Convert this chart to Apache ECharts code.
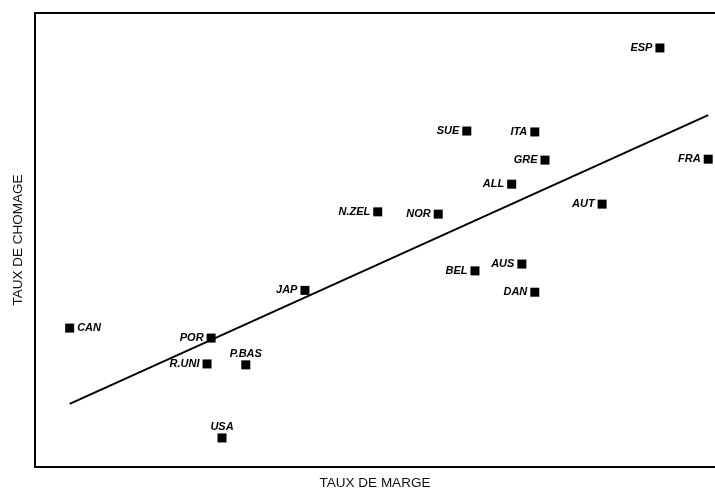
<!DOCTYPE html>
<html>
<head>
<meta charset="utf-8">
<script src="https://cdn.jsdelivr.net/npm/echarts@6/dist/echarts.min.js"></script>
<style>
  html, body { margin: 0; padding: 0; background: #fff; }
  #chart { width: 715px; height: 490px; }
</style>
</head>
<body>
<div id="chart"></div>
<script>
// Pays de l'OCDE : taux de marge (x) et taux de chômage (y), indices relatifs
const pays = ['ESP', 'SUE', 'ITA', 'GRE', 'FRA', 'ALL', 'AUT', 'N.ZEL', 'NOR',
              'AUS', 'BEL', 'DAN', 'JAP', 'CAN', 'POR', 'R.UNI', 'P.BAS', 'USA'];
const tauxMarge = [91.9, 63.5, 73.5, 75.0, 99.0, 70.1, 83.4, 50.4, 59.3,
                   71.6, 64.7, 73.5, 39.7, 5.1, 25.9, 25.3, 31.0, 27.5];
const tauxChomage = [92.3, 74.0, 73.8, 67.6, 67.8, 62.3, 57.9, 56.2, 55.7,
                     44.7, 43.2, 38.5, 38.9, 30.6, 28.4, 22.7, 22.5, 6.4];
// Droite d'ajustement (extrémités)
const droiteX = [5.1, 99.0];
const droiteY = [13.9, 77.5];

// Placement des étiquettes
const placement = { 'CAN': 'right', 'P.BAS': 'top', 'USA': 'top' };

const labelFont = {
  fontFamily: 'Liberation Sans, Arial, sans-serif',
  fontStyle: 'italic',
  fontWeight: 'bold',
  fontSize: 11,
  color: '#000'
};

const nameFont = {
  fontFamily: 'Liberation Sans, Arial, sans-serif',
  fontSize: 13.5,
  color: '#111'
};

const points = pays.map((p, i) => ({
  name: p,
  value: [tauxMarge[i], tauxChomage[i]],
  label: Object.assign({
    show: true,
    formatter: p,
    position: placement[p] || 'left',
    distance: placement[p] === 'top' ? 1 : 3
  }, labelFont)
}));

const chart = echarts.init(document.getElementById('chart'));
chart.setOption({
  animation: false,
  backgroundColor: '#fff',
  grid: { left: 35, right: 0, top: 13, bottom: 23, outerBoundsMode: 'none', containLabel: false },
  xAxis: [{
    type: 'value', min: 0, max: 100,
    name: 'TAUX DE MARGE', nameLocation: 'middle', nameGap: 9,
    nameTextStyle: nameFont,
    axisLine: { show: true, lineStyle: { color: '#000', width: 2 } },
    axisTick: { show: false }, axisLabel: { show: false }, splitLine: { show: false }
  }, {
    type: 'value', min: 0, max: 100, position: 'top',
    axisLine: { show: true, lineStyle: { color: '#000', width: 2 } },
    axisTick: { show: false }, axisLabel: { show: false }, splitLine: { show: false }
  }],
  yAxis: {
    type: 'value', min: 0, max: 100,
    name: 'TAUX DE CHOMAGE', nameLocation: 'middle', nameGap: 10,
    nameTextStyle: nameFont,
    axisLine: { show: true, lineStyle: { color: '#000', width: 2 } },
    axisTick: { show: false }, axisLabel: { show: false }, splitLine: { show: false }
  },
  series: [{
    type: 'line',
    data: droiteX.map((x, i) => [x, droiteY[i]]),
    symbol: 'none',
    lineStyle: { color: '#000', width: 2 },
    z: 1
  }, {
    type: 'scatter',
    data: points,
    symbol: 'rect',
    symbolSize: 9,
    itemStyle: { color: '#000', opacity: 1 },
    z: 2
  }]
});
</script>
</body>
</html>
